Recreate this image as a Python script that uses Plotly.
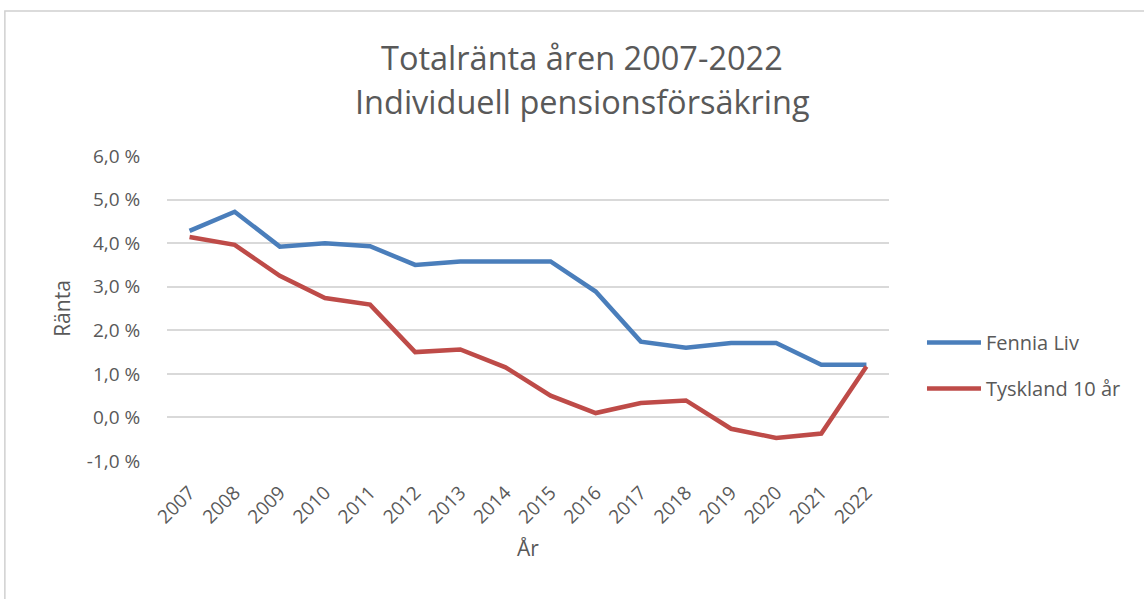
import plotly.graph_objects as go

years = [str(y) for y in range(2007, 2023)]
fennia_liv = [4.28, 4.72, 3.92, 4.00, 3.93, 3.50, 3.58, 3.58, 3.58, 2.89, 1.74, 1.60, 1.71, 1.71, 1.21, 1.21]
tyskland_10 = [4.14, 3.96, 3.25, 2.74, 2.59, 1.50, 1.56, 1.15, 0.50, 0.10, 0.33, 0.39, -0.26, -0.47, -0.37, 1.17]
y_ticks = [-1, 0, 1, 2, 3, 4, 5, 6]
y_ticktext = ["-1,0 %", "0,0 %", "1,0 %", "2,0 %", "3,0 %", "4,0 %", "5,0 %", "6,0 %"]

FONT = "Open Sans"
TXT = "#595959"
GRID = "#d9d9d9"

W, H = 1144, 599
L, R, T, B = 166.7, 1144 - 889, 156, 599 - 461
pw, ph = W - L - R, H - T - B

def px(x):
    return (x - L) / pw

def py(y):
    return (H - B - y) / ph

fig = go.Figure()
fig.add_trace(go.Scatter(x=years, y=fennia_liv, name="Fennia Liv", mode="lines",
                         line=dict(color="#4a7ebb", width=4.5), legendgroup="a"))
fig.add_trace(go.Scatter(x=years, y=tyskland_10, name="Tyskland 10 år", mode="lines",
                         line=dict(color="#be4b48", width=4.5), legendgroup="b"))

fig.update_layout(
    width=W, height=H,
    margin=dict(l=L, r=R, t=T, b=B, autoexpand=False),
    paper_bgcolor="white", plot_bgcolor="white",
    font=dict(family=FONT, color=TXT),
    showlegend=True,
    legend=dict(x=px(922), y=py(323), xanchor="left", yanchor="top",
                font=dict(size=20, color=TXT, family=FONT), itemwidth=54,
                traceorder="grouped", tracegroupgap=17, bgcolor="rgba(0,0,0,0)"),
    xaxis=dict(type="category", range=[-0.5, 15.5], showgrid=False, zeroline=False,
               showline=False, tickangle=-45, ticks="outside", ticklen=12,
               tickcolor="rgba(0,0,0,0)", tickfont=dict(size=19, color=TXT),
               title=dict(text="År", font=dict(size=21, color=TXT), standoff=13)),
    yaxis=dict(range=[-1, 6], tickvals=y_ticks, ticktext=y_ticktext, showgrid=True,
               gridcolor=GRID, gridwidth=2, zeroline=False, showline=False,
               ticks="outside", ticklen=22, tickcolor="rgba(0,0,0,0)",
               tickfont=dict(size=19, color=TXT),
               title=dict(text="Ränta", font=dict(size=21, color=TXT), standoff=10)),
    annotations=[
        dict(text="Totalränta åren 2007-2022", xref="paper", yref="paper",
             x=px(582), y=py(57), xanchor="center", yanchor="middle", showarrow=False,
             font=dict(size=32.5, color=TXT, family=FONT)),
        dict(text="Individuell pensionsförsäkring", xref="paper", yref="paper",
             x=px(582), y=py(101), xanchor="center", yanchor="middle", showarrow=False,
             font=dict(size=32.5, color=TXT, family=FONT)),
    ],
    shapes=[
        dict(type="rect", xref="paper", yref="paper", x0=px(4.5), x1=px(1200),
             y0=py(650), y1=py(11), line=dict(color="#d0d0d0", width=1.5), layer="below"),
    ],
)

fig.write_html("out.html", config={"displayModeBar": False},
               post_script="document.body.style.margin='0';")
